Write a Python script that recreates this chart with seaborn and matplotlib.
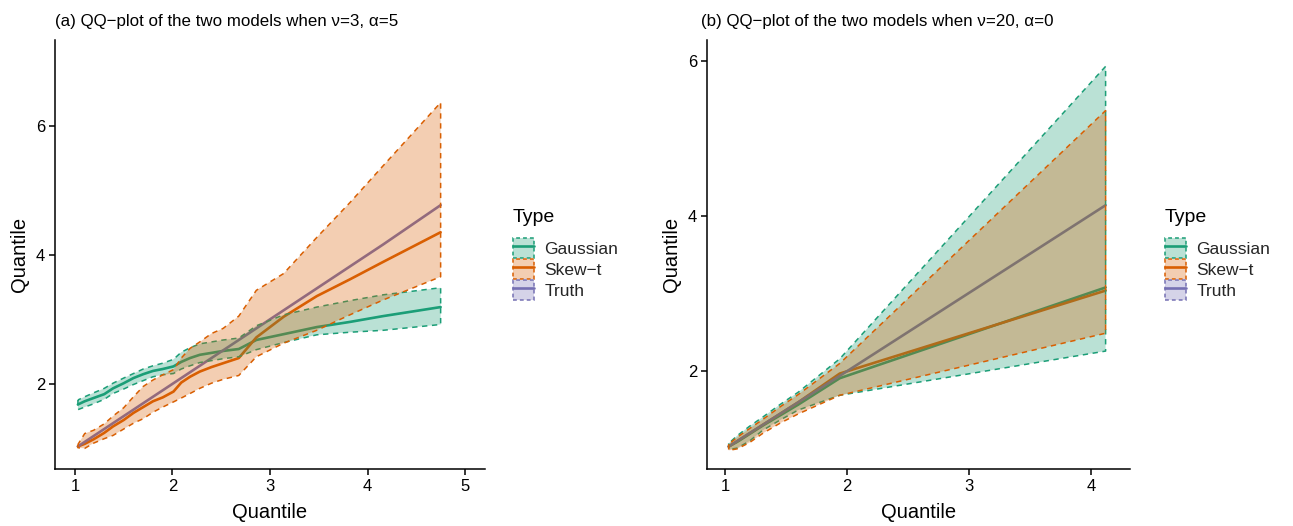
import numpy as np
import pandas as pd
import matplotlib
matplotlib.use("Agg")
import matplotlib.pyplot as plt
import seaborn as sns
from matplotlib.patches import Patch
from matplotlib.lines import Line2D
from matplotlib.legend_handler import HandlerTuple

# ---------------- data: panel (a) nu=3, alpha=5 ----------------
xa = [1.03, 1.10, 1.19, 1.30, 1.39, 1.50, 1.60, 1.70, 1.80, 1.90, 2.01, 2.09,
      2.18, 2.28, 2.40, 2.52, 2.68, 2.86, 3.14, 3.48, 3.82, 4.16, 4.75]
a_truth = [1.03, 1.10, 1.19, 1.30, 1.39, 1.50, 1.60, 1.70, 1.80, 1.90, 2.01, 2.09,
           2.18, 2.28, 2.40, 2.52, 2.68, 2.86, 3.14, 3.48, 3.82, 4.16, 4.77]
a_skew = [1.03, 1.07, 1.14, 1.24, 1.34, 1.44, 1.55, 1.64, 1.73, 1.79, 1.88, 2.02,
          2.11, 2.19, 2.26, 2.32, 2.40, 2.72, 3.04, 3.36, 3.62, 3.89, 4.35]
a_skew_hi = [1.06, 1.23, 1.28, 1.38, 1.50, 1.63, 1.80, 1.96, 2.06, 2.14, 2.22, 2.40,
             2.55, 2.65, 2.78, 2.86, 3.05, 3.45, 3.71, 4.27, 4.81, 5.38, 6.36]
a_skew_lo = [1.01, 1.00, 1.08, 1.15, 1.20, 1.30, 1.39, 1.46, 1.56, 1.64, 1.72, 1.78,
             1.85, 1.93, 2.01, 2.07, 2.13, 2.42, 2.63, 2.83, 3.07, 3.30, 3.66]
a_gauss = [1.68, 1.73, 1.78, 1.84, 1.93, 2.01, 2.09, 2.15, 2.20, 2.23, 2.27, 2.34,
           2.40, 2.45, 2.48, 2.51, 2.54, 2.68, 2.77, 2.88, 2.96, 3.05, 3.19]
a_gauss_hi = [1.75, 1.80, 1.86, 1.93, 2.01, 2.09, 2.16, 2.23, 2.28, 2.32, 2.38, 2.49,
              2.56, 2.62, 2.65, 2.68, 2.71, 2.90, 3.07, 3.19, 3.29, 3.38, 3.49]
a_gauss_lo = [1.60, 1.64, 1.69, 1.76, 1.85, 1.92, 1.99, 2.05, 2.11, 2.14, 2.16, 2.23,
              2.28, 2.33, 2.36, 2.39, 2.42, 2.53, 2.64, 2.76, 2.80, 2.83, 2.92]

# ---------------- data: panel (b) nu=20, alpha=0 ----------------
xb = [1.03, 1.10, 1.20, 1.31, 1.45, 1.60, 1.94, 4.12]
b_truth = [1.03, 1.10, 1.20, 1.31, 1.45, 1.60, 1.94, 4.14]
b_gauss = [1.03, 1.09, 1.19, 1.30, 1.43, 1.57, 1.91, 3.08]
b_gauss_hi = [1.07, 1.17, 1.29, 1.41, 1.57, 1.73, 2.16, 5.93]
b_gauss_lo = [0.99, 1.01, 1.10, 1.24, 1.37, 1.50, 1.69, 2.26]
b_skew = [1.03, 1.10, 1.20, 1.31, 1.45, 1.60, 1.97, 3.04]
b_skew_hi = [1.06, 1.15, 1.26, 1.38, 1.54, 1.70, 2.10, 5.36]
b_skew_lo = [0.98, 1.00, 1.08, 1.20, 1.33, 1.45, 1.69, 2.49]

types = ["Gaussian", "Skew-t", "Truth"]
labels = ["Gaussian", "Skew\u2212t", "Truth"]
colors = {"Gaussian": "#1B9E77", "Skew-t": "#D95F02", "Truth": "#7570B3"}
titles = ["(a) QQ\u2212plot of the two models when \u03bd=3, \u03b1=5",
          "(b) QQ\u2212plot of the two models when \u03bd=20, \u03b1=0"]


def make_df(x, gauss, glo, ghi, skew, slo, shi, truth):
    rows = []
    for t, y, lo, hi in [("Gaussian", gauss, glo, ghi), ("Skew-t", skew, slo, shi),
                         ("Truth", truth, truth, truth)]:
        for xi, yi, l, h in zip(x, y, lo, hi):
            rows.append(dict(x=xi, y=yi, lo=l, hi=h, Type=t))
    return pd.DataFrame(rows)


dfa = make_df(xa, a_gauss, a_gauss_lo, a_gauss_hi, a_skew, a_skew_lo, a_skew_hi, a_truth)
dfb = make_df(xb, b_gauss, b_gauss_lo, b_gauss_hi, b_skew, b_skew_lo, b_skew_hi, b_truth)

sns.set_theme(style="ticks")
plt.rcParams["font.family"] = ["Liberation Sans", "DejaVu Sans"]

W, H = 1293, 526
fig = plt.figure(figsize=(W / 100, H / 100), dpi=100)


def px_axes(l, r, t, b):
    return fig.add_axes([l / W, 1 - b / H, (r - l) / W, (b - t) / H])


ax1 = px_axes(55, 485, 40, 469)
ax2 = px_axes(707, 1130, 40, 469)

DASH = (0, (3.5, 3.0))


def draw(ax, df):
    sns.lineplot(data=df, x="x", y="y", hue="Type", palette=colors, hue_order=types,
                 estimator=None, sort=False, lw=1.9, legend=False, ax=ax, zorder=2)
    for t in ["Gaussian", "Skew-t"]:
        d = df[df.Type == t]
        c = matplotlib.colors.to_rgb(colors[t])
        ax.fill_between(d.x, d.lo, d.hi, facecolor=(*c, 0.3), edgecolor=c,
                        linestyle=DASH, linewidth=1.1, zorder=3)


draw(ax1, dfa)
draw(ax2, dfb)

ax1.set_xlim(0.795, 5.205)
ax1.set_ylim(0.68, 7.33)
ax1.set_xticks([1, 2, 3, 4, 5])
ax1.set_yticks([2, 4, 6])
ax2.set_xlim(0.852, 4.32)
ax2.set_ylim(0.74, 6.27)
ax2.set_xticks([1, 2, 3, 4])
ax2.set_yticks([2, 4, 6])

for ax in (ax1, ax2):
    sns.despine(ax=ax)
    for s in ("left", "bottom"):
        ax.spines[s].set_color("black")
        ax.spines[s].set_linewidth(1.1)
    ax.tick_params(axis="both", direction="out", length=4, width=1.1, color="black",
                   labelsize=12, labelcolor="black", pad=3)
    ax.set_xlabel("Quantile", fontsize=14.5, color="black", labelpad=7)
    ax.set_ylabel("Quantile", fontsize=14.5, color="black", labelpad=5)
    ax.grid(False)

fig.text(55 / W, 1 - 26 / H, titles[0], fontsize=12.2, ha="left", va="baseline", color="black")
fig.text(701 / W, 1 - 26 / H, titles[1], fontsize=12.2, ha="left", va="baseline", color="black")

handles = []
for t in types:
    c = matplotlib.colors.to_rgb(colors[t])
    p = Patch(facecolor=(*c, 0.3), edgecolor=c, linestyle=(0, (2.5, 2)), linewidth=1.1)
    ln = Line2D([], [], color=c, lw=1.9)
    handles.append((p, ln))

for xpos in (513, 1165):
    fig.text(xpos / W, 1 - 218 / H, "Type", fontsize=14, ha="left", va="center", color="black")
    fig.legend(handles, labels, handler_map={tuple: HandlerTuple(ndivide=1, pad=0)},
               loc="upper left", bbox_to_anchor=(xpos / W, 1 - 238 / H),
               bbox_transform=fig.transFigure,
               frameon=False, fontsize=12.5, handlelength=1.2, borderpad=0,
               handleheight=1.39, labelspacing=0.06, handletextpad=0.6, borderaxespad=0)

fig.savefig("out.png", dpi=100)
